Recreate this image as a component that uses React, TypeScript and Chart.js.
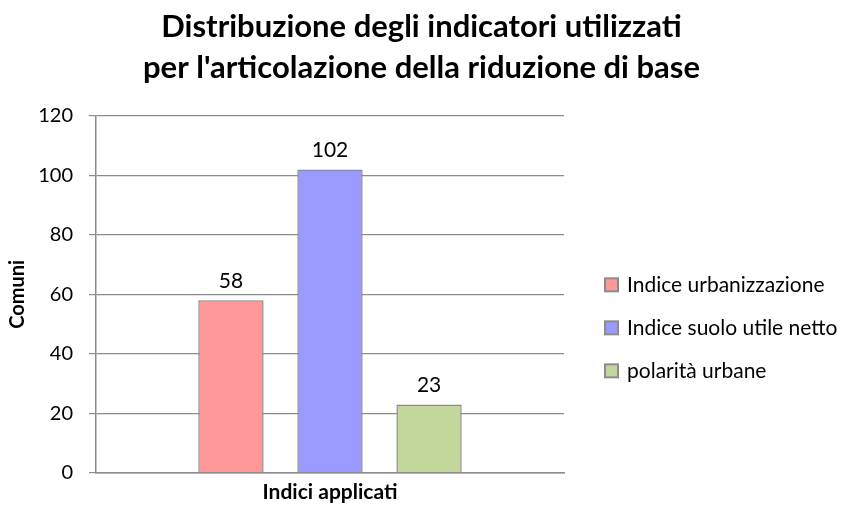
import React, { useEffect, useRef } from "react";
import { Chart, registerables } from "chart.js";

Chart.register(...registerables);

const categories = ["Indici applicati"];
const seriesNames = ["Indice urbanizzazione", "Indice suolo utile netto", "polarità urbane"];
const seriesValues = [[58], [102], [23]];
const seriesColors = ["#FF9999", "#9999FF", "#C3D69B"];
const titleLines = ["Distribuzione degli indicatori utilizzati", "per l'articolazione della riduzione di base"];
const yTitle = "Comuni";
const xTitle = "Indici applicati";
const yMin = 0;
const yMax = 120;
const yStep = 20;

const FONT = "Lato, 'Open Sans', sans-serif";
const GRAY = "#8c8c8c";

const dataLabelPlugin = {
  id: "dataLabels",
  afterDatasetsDraw(chart: any) {
    const ctx = chart.ctx;
    ctx.save();
    ctx.font = `21px ${FONT}`;
    ctx.fillStyle = "#000";
    ctx.textAlign = "center";
    ctx.textBaseline = "bottom";
    chart.data.datasets.forEach((ds: any, i: number) => {
      const meta = chart.getDatasetMeta(i);
      meta.data.forEach((el: any, j: number) => {
        ctx.fillText(String(ds.data[j]), el.x, el.y - 9);
      });
    });
    ctx.restore();
  },
};

// Legend drawn on the right side (Chart.js limits a side legend's width).
const sideLegendPlugin = {
  id: "sideLegend",
  afterDraw(chart: any) {
    const ctx = chart.ctx;
    const area = chart.chartArea;
    const boxX = area.right + 41;
    const startY = area.top + 169;
    const step = 43;
    const box = 13;
    ctx.save();
    ctx.font = `21px ${FONT}`;
    ctx.textBaseline = "middle";
    ctx.textAlign = "left";
    chart.data.datasets.forEach((ds: any, i: number) => {
      const cy = startY + i * step;
      ctx.fillStyle = ds.backgroundColor;
      ctx.fillRect(boxX, cy - box / 2, box, box);
      ctx.strokeStyle = GRAY;
      ctx.lineWidth = 2;
      ctx.strokeRect(boxX, cy - box / 2, box, box);
      ctx.fillStyle = "#000";
      ctx.fillText(ds.label, boxX + box + 9, cy);
    });
    ctx.restore();
  },
};

export default function App() {
  const ref = useRef<HTMLCanvasElement | null>(null);
  useEffect(() => {
    if (!ref.current) return;
    const chart = new Chart(ref.current, {
      type: "bar",
      data: {
        labels: categories,
        datasets: seriesNames.map((name, i) => ({
          label: name,
          data: seriesValues[i],
          backgroundColor: seriesColors[i],
          borderColor: GRAY,
          borderWidth: 1.5,
          categoryPercentage: 0.635,
          barPercentage: 0.66,
        })),
      },
      options: {
        animation: false,
        responsive: false,
        maintainAspectRatio: false,
        layout: { padding: { left: 0, right: 0, bottom: 0, top: 0 } },
        plugins: {
          title: {
            display: true,
            text: titleLines,
            color: "#000",
            font: { family: FONT, size: 31, weight: "bold", lineHeight: 1.32 },
            padding: { top: 6.5, bottom: 27.5 },
            fullSize: true,
          },
          legend: { display: false },
          tooltip: { enabled: false },
        },
        scales: {
          x: {
            grid: { display: false, drawTicks: false },
            border: { display: true, color: GRAY, width: 1.5 },
            ticks: { display: false },
            title: {
              display: true,
              text: xTitle,
              color: "#000",
              font: { family: FONT, size: 21, weight: "bold" },
              padding: { top: 7, bottom: 0 },
            },
          },
          y: {
            min: yMin,
            max: yMax,
            ticks: {
              stepSize: yStep,
              color: "#000",
              font: { family: FONT, size: 20 },
              padding: 16,
            },
            grid: { color: GRAY, lineWidth: 1.2, tickLength: 7, drawTicks: true },
            border: { display: true, color: GRAY, width: 1.5 },
            title: {
              display: true,
              text: yTitle,
              color: "#000",
              font: { family: FONT, size: 20, weight: "bold" },
              padding: { top: 6, bottom: 6 },
            },
            afterFit(scale: any) {
              scale.width = 96;
            },
          },
          legendSpace: {
            type: "linear",
            position: "right",
            display: true,
            grid: { display: false, drawTicks: false },
            border: { display: false },
            ticks: { display: false },
            afterFit(scale: any) {
              scale.width = 279;
            },
          },
        },
      },
      plugins: [dataLabelPlugin, sideLegendPlugin],
    });
    return () => chart.destroy();
  }, []);
  return (
    <div style={{ position: "fixed", left: 0, top: 0, width: 843, height: 505, background: "#fff" }}>
      <canvas ref={ref} width={843} height={505} />
    </div>
  );
}
